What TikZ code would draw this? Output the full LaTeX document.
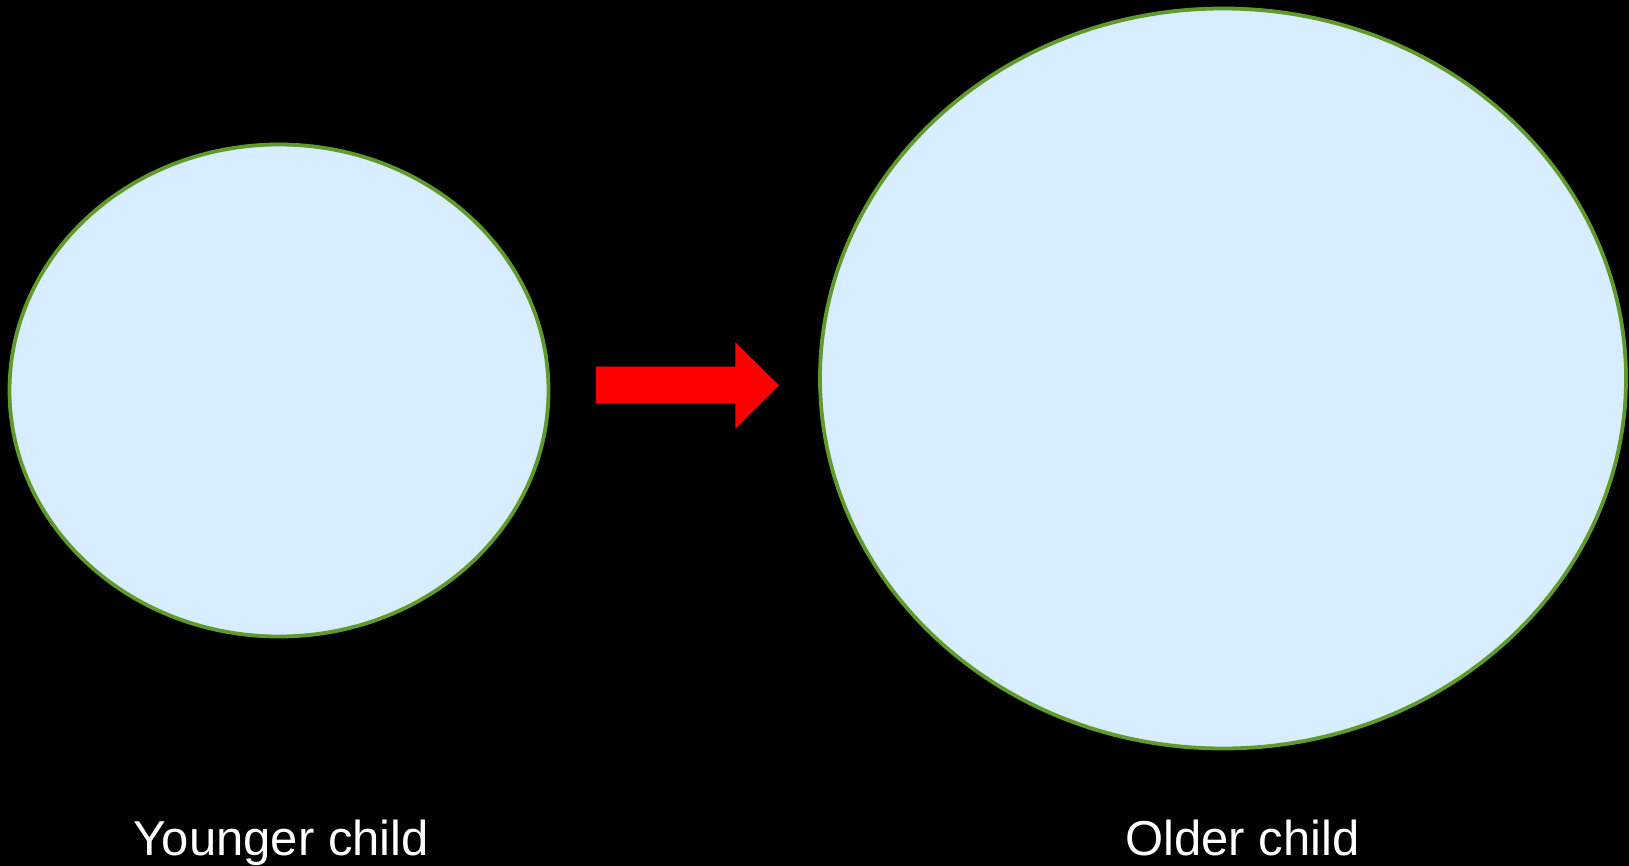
\documentclass[tikz,border=0pt]{standalone}
\usepackage{fontspec}
\setmainfont{Liberation Sans}
\definecolor{efill}{RGB}{216,237,255}
\definecolor{edraw}{RGB}{96,154,44}
\begin{document}
\begin{tikzpicture}[x=1pt,y=-1pt,
  lbl/.style={text=white,font=\fontsize{49}{58}\selectfont,anchor=base,inner sep=0pt}]
\fill[black] (0,0) rectangle (1629,866);
\useasboundingbox (0,0) rectangle (1629,866);
\draw[draw=edraw,fill=efill,line width=3.8pt] (279,390.5) ellipse [x radius=269.5,y radius=246];
\draw[draw=edraw,fill=efill,line width=3.8pt] (1223,378.5) ellipse [x radius=403,y radius=370];
\fill[red] (596,366.7) -- (735.3,366.7) -- (735.3,342.3) -- (779,385.4) -- (735.3,428.7) -- (735.3,403.7) -- (596,403.7) -- cycle;
\node[lbl] (young) at (281.3,855) {Younger child};
\node[lbl] (old) at (1242.5,855) {Older child};
\end{tikzpicture}
\end{document}
